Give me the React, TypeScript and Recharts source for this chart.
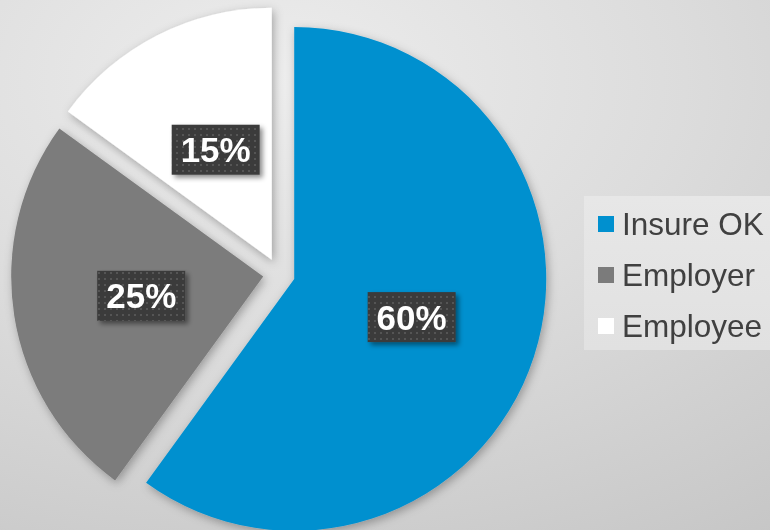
import { PieChart, Pie, Cell } from "recharts";

const names = ["Insure OK", "Employer", "Employee"];
const values = [60, 25, 15];
const labels = ["60%", "25%", "15%"];
const colors = ["#0090cf", "#7b7b7b", "#ffffff"];

const RAD = Math.PI / 180;
const CX = 279;
const CY = 274;
const R = 252;
const EXPLODE = 16;

const total = values.reduce((a, b) => a + b, 0);

// mid angle of each slice (recharts degrees, 90 = top, clockwise)
function midAngleOf(i: number): number {
  const before = values.slice(0, i).reduce((a, b) => a + b, 0);
  return 90 - (360 * before) / total - (180 * values[i]) / total;
}

const chartData = names.map((name, i) => ({ name, value: values[i] }));

function LabelBox(props: any, visible: number) {
  const { cx, cy, midAngle, outerRadius, index } = props;
  if (index !== visible) return null;
  const x = cx + outerRadius * 0.49 * Math.cos(-midAngle * RAD);
  const y = cy + outerRadius * 0.49 * Math.sin(-midAngle * RAD);
  const w = 88;
  const h = 50;
  return (
    <g>
      <rect
        x={x - w / 2}
        y={y - h / 2}
        width={w}
        height={h}
        fill="url(#dots)"
        filter="url(#boxShadow)"
      />
      <text
        x={x}
        y={y + 12.5}
        textAnchor="middle"
        fill="#ffffff"
        fontSize={35}
        fontWeight={700}
        fontFamily="Liberation Sans, Arial, sans-serif"
      >
        {labels[index]}
      </text>
    </g>
  );
}

function LegendBox() {
  return (
    <div
      style={{
        position: "absolute",
        left: 584,
        top: 196,
        width: 186,
        height: 154,
        background: "linear-gradient(180deg, #e7e7e7, #e1e1e1)",
      }}
    >
      {names.map((n, i) => (
        <div
          key={n}
          style={{
            position: "absolute",
            left: 14,
            top: 10 + i * 51,
            height: 36,
            display: "flex",
            alignItems: "center",
            whiteSpace: "nowrap",
          }}
        >
          <span
            style={{
              display: "inline-block",
              width: 16,
              height: 16,
              background: colors[i],
              marginRight: 8,
            }}
          />
          <span
            style={{
              fontFamily: "Liberation Sans, Arial, sans-serif",
              fontSize: 31.5,
              color: "#404040",
              lineHeight: "36px",
            }}
          >
            {n}
          </span>
        </div>
      ))}
    </div>
  );
}

export default function App() {
  return (
    <div
      style={{
        position: "fixed",
        left: 0,
        top: 0,
        width: 770,
        height: 530,
        overflow: "hidden",
        background:
          "radial-gradient(ellipse 120% 110% at 35% 15%, #ededed 0%, #dcdcdc 45%, #c4c4c4 100%)",
      }}
    >
      <PieChart width={770} height={530} margin={{ top: 0, right: 0, bottom: 0, left: 0 }}>
        <defs>
          <pattern id="dots" width="6" height="6" patternUnits="userSpaceOnUse">
            <rect width="6" height="6" fill="#3b3b3b" />
            <rect x="2" y="2" width="2" height="2" fill="#545454" />
          </pattern>
          <filter id="boxShadow" x="-20%" y="-20%" width="150%" height="160%">
            <feDropShadow dx="3" dy="3" stdDeviation="2.5" floodColor="#000" floodOpacity="0.45" />
          </filter>
          <filter id="pieShadow" x="-20%" y="-20%" width="140%" height="140%">
            <feDropShadow dx="2" dy="3" stdDeviation="5" floodColor="#000" floodOpacity="0.3" />
          </filter>
        </defs>
        {values.map((_, k) => {
          const mid = midAngleOf(k);
          const cx = CX + EXPLODE * Math.cos(mid * RAD);
          const cy = CY - EXPLODE * Math.sin(mid * RAD);
          return (
            <Pie
              key={k}
              data={chartData}
              dataKey="value"
              nameKey="name"
              cx={cx}
              cy={cy}
              outerRadius={R}
              startAngle={90}
              endAngle={-270}
              stroke="none"
              labelLine={false}
              label={(p: any) => LabelBox(p, k)}
              isAnimationActive={false}
              style={{ filter: "url(#pieShadow)" }}
            >
              {chartData.map((d, i) => (
                <Cell key={d.name} fill={i === k ? colors[i] : "transparent"} />
              ))}
            </Pie>
          );
        })}
      </PieChart>
      <LegendBox />
    </div>
  );
}
